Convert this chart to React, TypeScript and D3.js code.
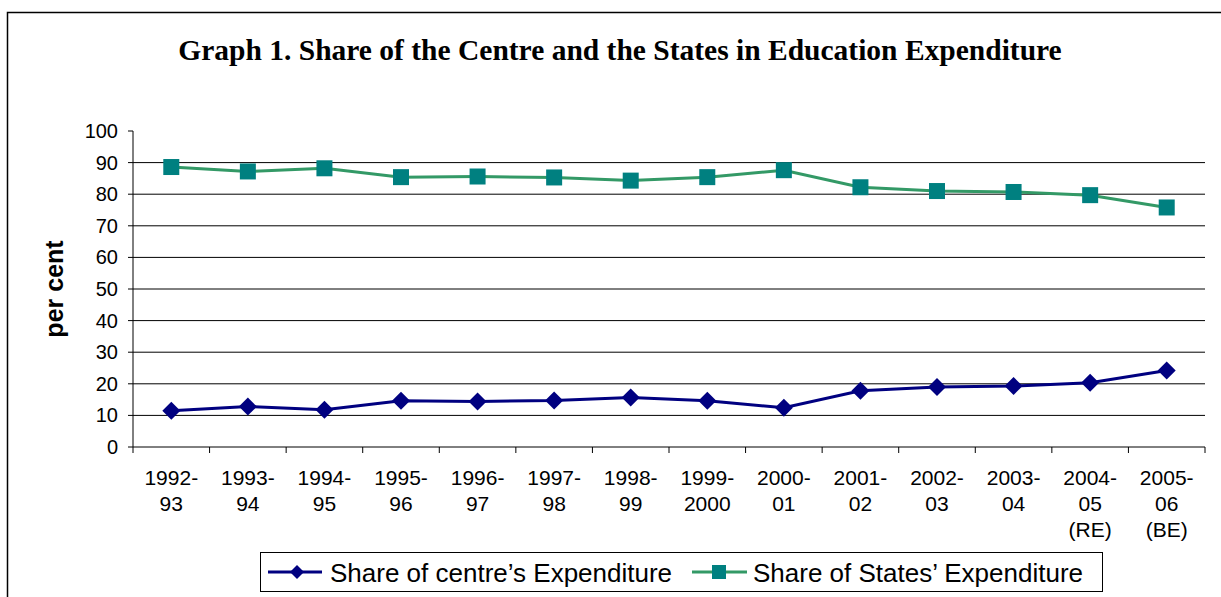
import React from "react";
import * as d3 from "d3";

const years = [
  ["1992-", "93"], ["1993-", "94"], ["1994-", "95"], ["1995-", "96"], ["1996-", "97"],
  ["1997-", "98"], ["1998-", "99"], ["1999-", "2000"], ["2000-", "01"], ["2001-", "02"],
  ["2002-", "03"], ["2003-", "04"], ["2004-", "05", "(RE)"], ["2005-", "06", "(BE)"],
];
const centreShare = [11.5, 12.8, 11.8, 14.6, 14.4, 14.7, 15.7, 14.6, 12.4, 17.8, 19.0, 19.3, 20.3, 24.2];
const statesShare = [88.6, 87.2, 88.2, 85.4, 85.6, 85.3, 84.3, 85.4, 87.6, 82.2, 81.0, 80.7, 79.7, 75.8];
const yTicks = [0, 10, 20, 30, 40, 50, 60, 70, 80, 90, 100];

const W = 1221, H = 597;
const left = 133, right = 1205, top = 131, bottom = 447;

export default function App() {
  const keys = years.map((d) => d.join(" "));
  const x = d3.scaleBand().domain(keys).range([left, right]);
  const y = d3.scaleLinear().domain([0, 100]).range([bottom, top]);
  const cx = (i: number) => (x(keys[i]) as number) + x.bandwidth() / 2;
  const line = d3.line<number>().x((_, i) => cx(i)).y((d) => y(d));
  const font = "Arial, 'Liberation Sans', sans-serif";

  const diamond = (px: number, py: number, r = 9) =>
    `M${px},${py - r}L${px + r},${py}L${px},${py + r}L${px - r},${py}Z`;

  return (
    <svg width={W} height={H} style={{ position: "absolute", left: 0, top: 0, background: "#fff" }}>
      <rect x={7.5} y={12.5} width={W + 10} height={H + 10} fill="none" stroke="#000" strokeWidth={1.5} />
      <text x={620} y={60} textAnchor="middle" fontFamily="'Liberation Serif', 'Times New Roman', serif"
        fontWeight="bold" fontSize={29.5}>
        Graph 1. Share of the Centre and the States in Education Expenditure
      </text>

      {/* gridlines */}
      {yTicks.filter((t) => t > 0 && t < 100).map((t) => (
        <line key={t} x1={left} x2={right} y1={y(t)} y2={y(t)} stroke="#000" strokeWidth={1} />
      ))}
      {/* y axis */}
      <line x1={left} x2={left} y1={top} y2={bottom} stroke="#000" />
      {yTicks.map((t) => (
        <g key={t}>
          <line x1={left - 5} x2={left} y1={y(t)} y2={y(t)} stroke="#000" />
          <text x={118} y={y(t)} dy="0.35em" textAnchor="end" fontFamily={font} fontSize={20}>{t}</text>
        </g>
      ))}
      <text transform={`translate(63,${(top + bottom) / 2}) rotate(-90)`} textAnchor="middle"
        fontFamily={font} fontWeight="bold" fontSize={25}>per cent</text>

      {/* x axis */}
      <line x1={left} x2={right} y1={bottom} y2={bottom} stroke="#000" />
      {keys.map((k) => (
        <line key={k} x1={x(k)} x2={x(k)} y1={bottom} y2={bottom + 6} stroke="#000" />
      ))}
      <line x1={right} x2={right} y1={bottom} y2={bottom + 6} stroke="#000" />
      {years.map((lbl, i) => (
        <text key={i} x={cx(i)} textAnchor="middle" fontFamily={font} fontSize={21}>
          {lbl.map((s, j) => (
            <tspan key={j} x={cx(i)} y={485 + j * 26}>{s}</tspan>
          ))}
        </text>
      ))}

      {/* series */}
      <path d={line(statesShare) ?? ""} fill="none" stroke="#339966" strokeWidth={3} />
      {statesShare.map((v, i) => (
        <rect key={i} x={cx(i) - 8} y={y(v) - 8} width={16} height={16} fill="#008080" />
      ))}
      <path d={line(centreShare) ?? ""} fill="none" stroke="#000080" strokeWidth={3} />
      {centreShare.map((v, i) => (
        <path key={i} d={diamond(cx(i), y(v))} fill="#000080" />
      ))}

      {/* legend */}
      <rect x={260.5} y={552.5} width={842} height={39} fill="#fff" stroke="#000" />
      <line x1={268} x2={322} y1={572} y2={572} stroke="#000080" strokeWidth={3} />
      <path d={diamond(297, 572, 7)} fill="#000080" />
      <text x={330} y={582} fontFamily={font} fontSize={26}>Share of centre’s Expenditure</text>
      <line x1={692} x2={747} y1={572} y2={572} stroke="#339966" strokeWidth={3} />
      <rect x={712} y={565} width={14} height={14} fill="#008080" />
      <text x={753} y={582} fontFamily={font} fontSize={26}>Share of States’ Expenditure</text>
    </svg>
  );
}
